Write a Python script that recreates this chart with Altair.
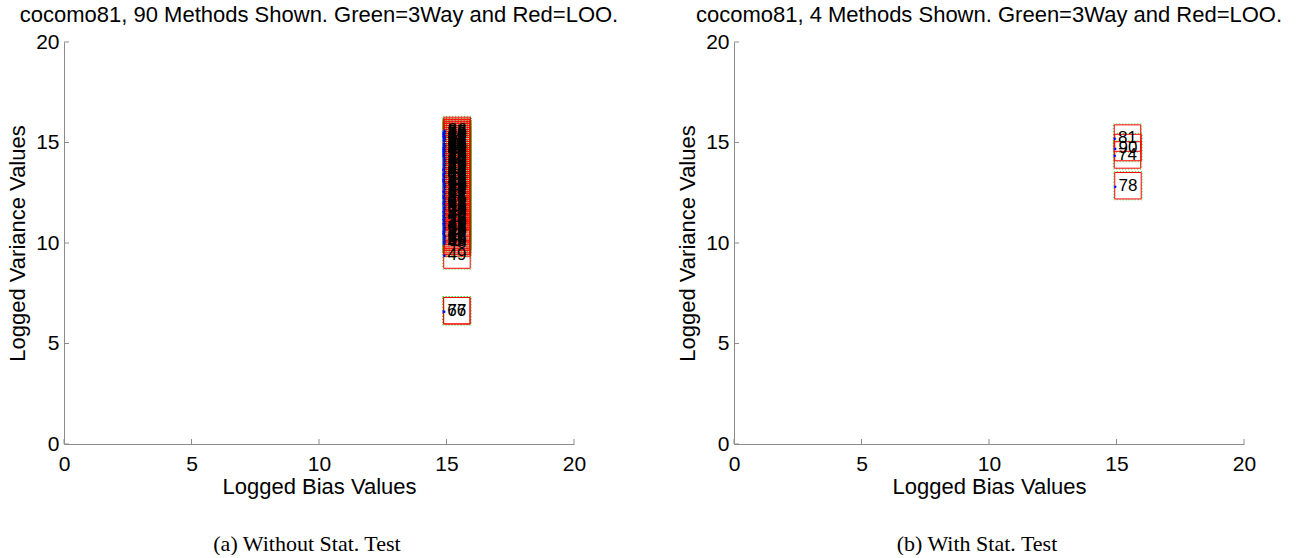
import altair as alt
import pandas as pd

tick_values = [0, 5, 10, 15, 20]

# Panel (a): 90 methods
left_ids = list(range(1, 91))
left_var = [
    14.9, 13.2, 10.4, 15.1, 12.6, 11.3, 14.2, 10.1, 13.7, 15.3,
    12.1, 10.8, 14.6, 11.8, 13.0, 15.4, 10.3, 12.9, 14.4, 11.1,
    13.5, 15.0, 10.6, 12.3, 14.0, 15.5, 11.6, 13.8, 10.2, 14.7,
    12.5, 15.2, 11.0, 13.3, 14.3, 15.6, 10.5, 12.8, 14.8, 11.4,
    13.6, 10.9, 15.3, 12.2, 14.1, 11.9, 13.1, 10.0, 9.4, 14.5,
    12.7, 15.1, 11.2, 13.9, 10.7, 14.9, 12.4, 15.4, 11.5, 13.4,
    14.6, 10.4, 12.0, 15.0, 11.7, 6.63, 13.7, 14.2, 10.1, 12.6,
    15.2, 11.3, 13.2, 14.4, 10.6, 12.9, 6.63, 14.0, 11.0, 13.5,
    15.3, 10.3, 12.3, 14.7, 11.8, 13.0, 15.5, 10.8, 12.1, 14.8,
]
left_bias = [
    15.41, 15.40, 15.42, 15.41, 15.40, 15.41, 15.42, 15.41, 15.40, 15.41,
    15.41, 15.42, 15.40, 15.41, 15.41, 15.40, 15.42, 15.41, 15.40, 15.41,
    15.42, 15.41, 15.40, 15.41, 15.41, 15.42, 15.40, 15.41, 15.41, 15.40,
    15.42, 15.41, 15.40, 15.41, 15.41, 15.42, 15.40, 15.41, 15.41, 15.40,
    15.42, 15.41, 15.40, 15.41, 15.41, 15.42, 15.40, 15.41, 15.41, 15.40,
    15.42, 15.41, 15.40, 15.41, 15.41, 15.42, 15.40, 15.41, 15.41, 15.40,
    15.42, 15.41, 15.40, 15.41, 15.41, 15.40, 15.40, 15.41, 15.41, 15.40,
    15.42, 15.41, 15.40, 15.41, 15.41, 15.42, 15.41, 15.41, 15.41, 15.40,
    15.42, 15.41, 15.40, 15.41, 15.41, 15.42, 15.40, 15.41, 15.41, 15.40,
]

# Panel (b): 4 methods
right_ids = [81, 90, 74, 78]
right_bias = [15.43, 15.45, 15.43, 15.45]
right_var = [15.22, 14.75, 14.38, 12.85]

W, H = 510, 402
FONT = "Liberation Sans"


def panel(ids, bias, var, title, caption):
    df = pd.DataFrame({"id": ids, "bias": bias, "var": var})
    xs = alt.Scale(domain=[0, 20], nice=False)
    ys = alt.Scale(domain=[0, 20], nice=False)
    axis_common = dict(
        values=tick_values, grid=False, ticks=False, domainColor="#8c8c8c", labelFlush=False,
        labelFont=FONT, labelFontSize=21, labelColor="black",
        titleFont=FONT, titleFontSize=22, titleFontWeight="normal", titleColor="black",
    )
    xaxis = alt.Axis(title="Logged Bias Values", labelPadding=9, titlePadding=2, **axis_common)
    yaxis = alt.Axis(title="Logged Variance Values", labelPadding=5, titlePadding=6, **axis_common)
    x = alt.X("bias:Q", scale=xs, axis=xaxis)
    y = alt.Y("var:Q", scale=ys, axis=yaxis)
    base = alt.Chart(df)
    green = base.mark_point(shape="square", size=800, filled=False, color="#22dd22",
                            strokeDash=[1, 2], strokeWidth=1, opacity=1).encode(x=x, y=y)
    red = base.mark_point(shape="square", size=700, filled=False, color="#ff0000",
                          strokeWidth=1, opacity=1).encode(x=x, y=y)
    dots = base.mark_text(text="•", dx=-13, dy=1, color="#0000ff", fontSize=9).encode(x=x, y=y)
    labels = base.mark_text(font=FONT, fontSize=17, color="black").encode(x=x, y=y, text="id:N")

    xt = alt.Chart(pd.DataFrame({"bias": tick_values})).mark_rule(color="#8c8c8c").encode(
        x=alt.X("bias:Q", scale=xs, axis=xaxis), y=alt.value(H), y2=alt.value(H - 5))
    yt = alt.Chart(pd.DataFrame({"var": tick_values})).mark_rule(color="#8c8c8c").encode(
        y=alt.Y("var:Q", scale=ys, axis=yaxis), x=alt.value(0), x2=alt.value(5))
    cap = alt.Chart(pd.DataFrame({"c": [caption]})).mark_text(
        font="Liberation Serif", fontSize=22, color="black").encode(
        x=alt.value(W / 2 - 12), y=alt.value(H + 100), text="c:N")

    return alt.layer(green, red, dots, labels, xt, yt, cap).properties(
        width=W, height=H,
        title=alt.TitleParams(title, font=FONT, fontSize=22, fontWeight="normal",
                              color="black", anchor="middle", frame="group", offset=4),
    )


left = panel(left_ids, left_bias, left_var,
             "cocomo81, 90 Methods Shown. Green=3Way and Red=LOO.", "(a)  Without Stat. Test")
right = panel(right_ids, right_bias, right_var,
              "cocomo81, 4 Methods Shown. Green=3Way and Red=LOO.", "(b)  With Stat. Test")

chart = alt.hconcat(left, right, spacing=160, bounds="flush").properties(
    padding={"left": 6, "top": 4, "right": 5, "bottom": 0}
).configure_view(strokeWidth=0, stroke="transparent")

chart.save("out.html", embed_options={"renderer": "svg", "actions": False})
